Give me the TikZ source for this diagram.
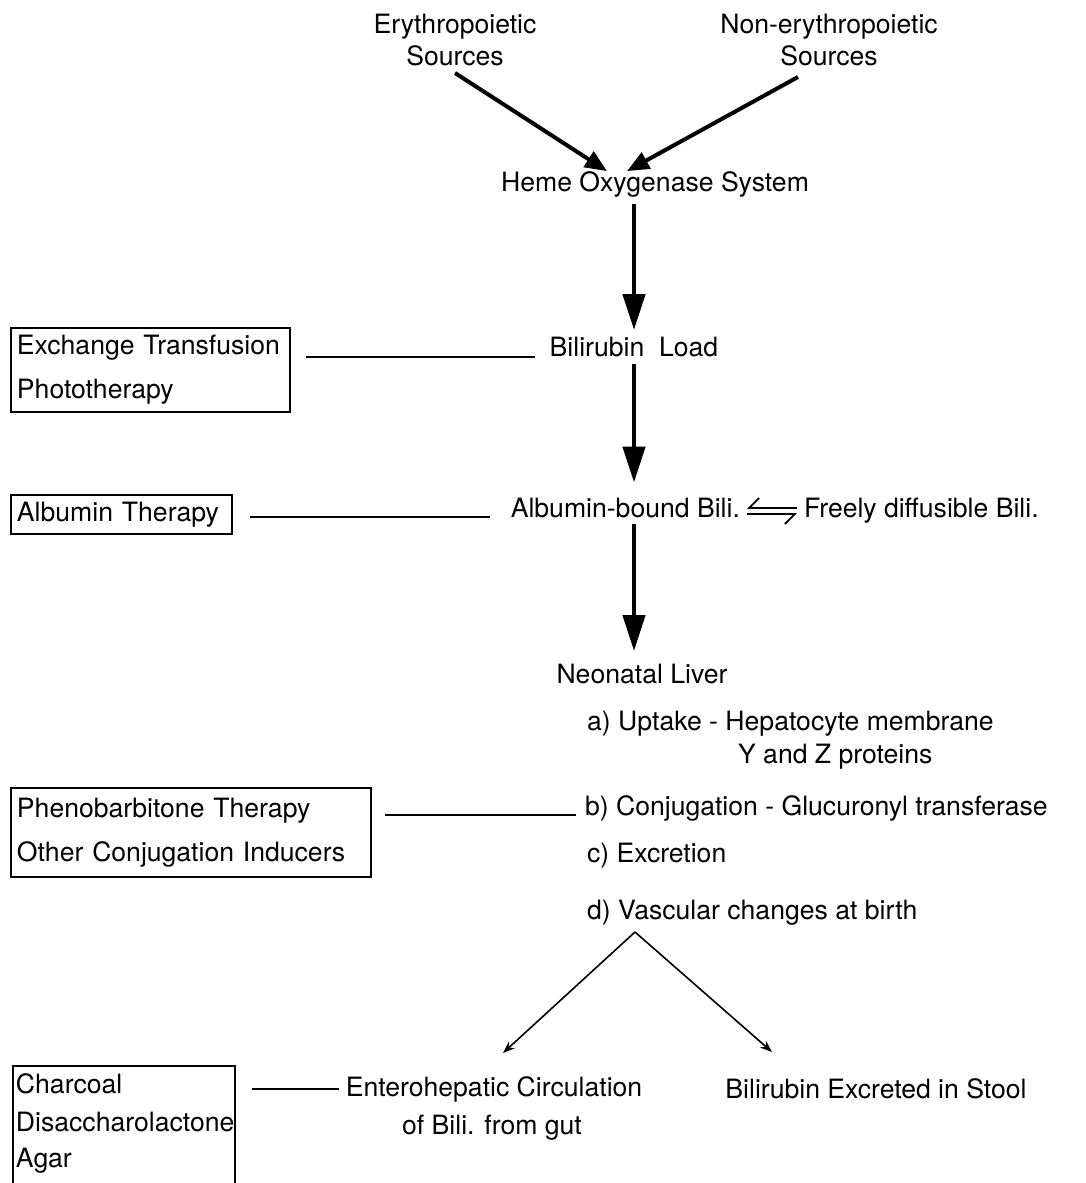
\documentclass[tikz,border=0pt]{standalone}
\usepackage{fontspec}
\setmainfont{TeX Gyre Heros}
\usetikzlibrary{arrows.meta}
\hyphenpenalty=10000
\tikzset{
	mainflow/.style={-{Triangle[length=18pt,width=11pt]}, line width=2.3pt},
	feed/.style={-{Triangle[length=11pt,width=9pt]}, line width=2pt},
	fork/.style={-{Stealth[length=6pt,width=4.5pt]}, line width=0.8pt},
	swap/.style={line width=0.9pt},
	link/.style={line width=1pt},
	therapy/.style={draw, line width=1pt, anchor=north west, align=left, inner xsep=3pt, inner ysep=0pt},
}
\begin{document}
\begin{tikzpicture}[x=0.5pt, y=-0.5pt, font=\fontsize{13.3}{16}\selectfont]
		\useasboundingbox (0,0) rectangle (1086,1183);
		%sources
		\node[align=center] (ery) at (455,40){Erythropoietic\\Sources};
		\node[align=center] (nonery) at (829,40){Non-erythropoietic\\Sources};
		\node (heme) at (655,184){Heme Oxygenase System};
		\draw[feed] (ery.south) -- ([xshift=-24pt,yshift=-3.5pt]heme.north);
		\draw[feed] ([xshift=-15.5pt,yshift=-2pt]nonery.south) -- ([xshift=-14pt,yshift=-3.5pt]heme.north);
		
		%main column
		\node (load) at (634,347){Bilirubin\ \ Load};
		\node[anchor=base east] (bound) at (747,517){Albumin-bound Bili.};
		\node[anchor=base west] (free) at (797,517){Freely diffusible Bili.};
		\node (liver) at (642,674){Neonatal Liver};
		\draw[mainflow] (heme.south -| load.north) -- (load.north);
		\draw[mainflow, shorten >=4pt] (load.south) -- (load.south |- bound.north);
		\draw[mainflow, shorten >=3pt] (load.south |- bound.south) -- (load.south |- liver.north);
		\draw[swap, {Straight Barb[right,length=5pt,width=10pt]}-] ([yshift=4.5pt]bound.base east) -- ([yshift=4.5pt]free.base west);
		\draw[swap, -{Straight Barb[right,length=5pt,width=10pt]}] ([yshift=1.5pt]bound.base east) -- ([yshift=1.5pt]free.base west);
		
		%liver steps
		\node[anchor=west] (uptake) at (580,724){a) Uptake - Hepatocyte membrane};
		\node[anchor=west] (yz) at (731,757){Y and Z proteins};
		\node[anchor=west] (conj) at (578,808){b) Conjugation - Glucuronyl transferase};
		\node[anchor=west] (excr) at (580,856){c) Excretion};
		\node[anchor=west] (vasc) at (580,913){d) Vascular changes at birth};
		\coordinate (apex) at (635,932);
		\coordinate (tipl) at (503,1053);
		\coordinate (tipr) at (772,1052);
		\draw[fork] (apex) -- (tipl);
		\draw[fork] (apex) -- (tipr);
		\node (entero) at (494,1089){Enterohepatic Circulation};
		\node (gut) at (492,1128){of Bili. from gut};
		\node (stool) at (876,1089){Bilirubin Excreted in Stool};
		
		%therapies
		\node[therapy, text width=133.5pt, minimum height=42pt] (exch) at (10,327){Exchange Transfusion\\[6pt]Phototherapy};
		\node[therapy, text width=104.5pt, minimum height=19.5pt] (albumin) at (10,494){Albumin Therapy};
		\node[therapy, text width=174pt, minimum height=44.5pt] (pheno) at (10,787){Phenobarbitone Therapy\\[6pt]Other Conjugation Inducers};
		\node[therapy, text width=108pt, inner xsep=1.5pt, inner ysep=4pt, text depth=70pt] (agents) at (12,1065){Charcoal\\[3pt]Disaccharolactone\\[2pt]Agar};
		\draw[link, shorten <=7.5pt, shorten >=4pt] (exch.east |- load.base) -- (load.base west);
		\draw[link, shorten <=8.5pt, shorten >=7pt] (albumin.east |- bound.base) -- (bound.base west);
		\draw[link, shorten <=6.5pt, shorten >=1pt] (pheno.east |- conj.base) -- (conj.base west);
		\draw[link, shorten <=8pt, shorten >=0pt] (agents.east |- entero.west) -- (entero.west);
\end{tikzpicture}
\end{document}
